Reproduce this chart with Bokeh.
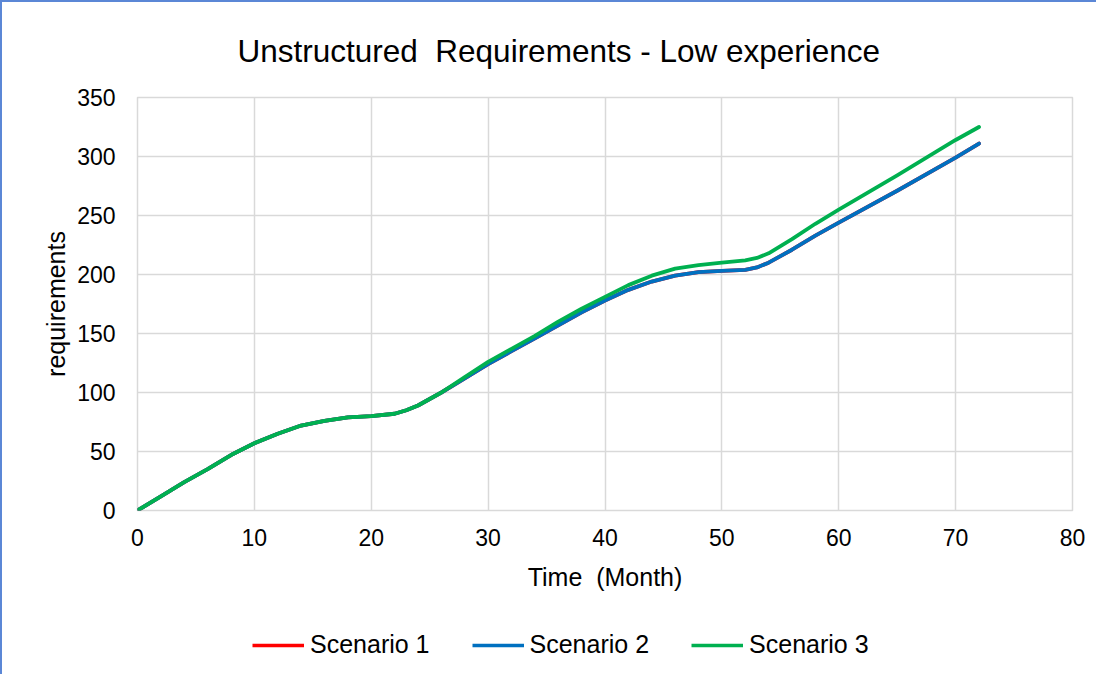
from bokeh.plotting import figure
from bokeh.layouts import column
from bokeh.models import FixedTicker, Range1d, Legend, LegendItem, InlineStyleSheet
from bokeh.embed import file_html
from bokeh.resources import INLINE

# ---- data ----
months = [0, 2, 4, 6, 8, 10, 12, 14, 16, 18, 20, 22, 23, 24, 26, 28, 30, 32, 34, 36, 38,
          40, 42, 44, 46, 48, 50, 52, 53, 54, 56, 58, 60, 65, 70, 72]
scenario_1 = [0, 12, 24, 35, 47, 57, 65, 72, 76, 79, 80, 82, 85, 89, 100, 112, 124, 135, 146, 157, 168,
              178, 187, 194, 199, 202, 203, 204, 206, 210, 221, 233, 244, 271, 299, 311]
scenario_2 = [0, 12, 24, 35, 47, 57, 65, 72, 76, 79, 80, 82, 85, 89, 100, 112, 124, 135, 146, 157, 168,
              178, 187, 194, 199, 202, 203, 204, 206, 210, 221, 233, 244, 271, 299, 311]
scenario_3 = [0, 12, 24, 35, 47, 57, 65, 72, 76, 79, 80, 82, 85, 89, 100, 113, 126, 137, 148, 160, 171,
              181, 191, 199, 205, 208, 210, 212, 214, 218, 230, 243, 255, 284, 314, 325]
series_names = ["Scenario 1", "Scenario 2", "Scenario 3"]
series_colors = ["#FF0000", "#0070C0", "#00B050"]
x_ticks = [0, 10, 20, 30, 40, 50, 60, 70, 80]
y_ticks = [0, 50, 100, 150, 200, 250, 300, 350]

FONT = "Liberation Sans"
GRID = "#D9D9D9"
series = [scenario_1, scenario_2, scenario_3]

p = figure(width=1094, height=610, output_backend="svg", toolbar_location=None,
           x_range=Range1d(0, 80), y_range=Range1d(0, 350),
           min_border_left=135, min_border_right=24, min_border_top=95, min_border_bottom=102,
           title="Unstructured\u00a0 Requirements - Low experience")

p.title.align = "left"
p.title.offset = 100
p.title.text_font = FONT
p.title.text_font_size = "31.5px"
p.title.text_font_style = "normal"
p.title.text_color = "#000000"
p.title.standoff = 57

p.outline_line_color = GRID
p.outline_line_width = 1.5

for ax in (p.xaxis[0], p.yaxis[0]):
    ax.axis_line_color = None
    ax.major_tick_line_color = None
    ax.minor_tick_line_color = None
    ax.major_tick_out = 0
    ax.major_tick_in = 0
    ax.major_label_text_font = FONT
    ax.major_label_text_font_size = "23px"
    ax.major_label_text_color = "#000000"
    ax.axis_label_text_font = FONT
    ax.axis_label_text_font_size = "25px"
    ax.axis_label_text_font_style = "normal"
    ax.axis_label_text_color = "#000000"

p.xaxis[0].ticker = FixedTicker(ticks=x_ticks)
p.yaxis[0].ticker = FixedTicker(ticks=y_ticks)
p.xaxis[0].axis_label = "Time\u00a0 (Month)"
p.yaxis[0].axis_label = "requirements"
p.xaxis[0].major_label_standoff = 18
p.xaxis[0].axis_label_standoff = 14
p.yaxis[0].major_label_standoff = 22
p.yaxis[0].axis_label_standoff = 4

p.xgrid.ticker = FixedTicker(ticks=x_ticks)
p.ygrid.ticker = FixedTicker(ticks=y_ticks)
p.xgrid.grid_line_color = GRID
p.ygrid.grid_line_color = GRID
p.xgrid.grid_line_width = 1.5
p.ygrid.grid_line_width = 1.5

for ys, col in zip(series, series_colors):
    p.line(months, ys, line_color=col, line_width=3.8, line_cap="round", line_join="round")

# legend strip below the chart (its key lines lie outside its ranges, so only the legend shows)
lf = figure(width=1094, height=62, output_backend="svg", toolbar_location=None,
            x_range=Range1d(-2, -1), y_range=Range1d(-2, -1),
            x_axis_type=None, y_axis_type=None, min_border=0)
lf.outline_line_color = None
lf.xgrid.visible = False
lf.ygrid.visible = False
key_renderers = [lf.line(months, ys, line_color=c, line_width=3.5) for ys, c in zip(series, series_colors)]
legend = Legend(items=[LegendItem(label=n, renderers=[r]) for n, r in zip(series_names, key_renderers)],
                orientation="horizontal", location=(115, 15),
                label_text_font=FONT, label_text_font_size="25px", label_text_color="#000000",
                glyph_width=52, glyph_height=20, label_standoff=6, spacing=42,
                padding=0, margin=0, border_line_color=None, background_fill_alpha=0)
lf.add_layout(legend, "center")

border_css = InlineStyleSheet(css=":host { border-left: 2px solid #5B87D6; border-top: 2px solid #5B87D6; }")
layout = column(p, lf, spacing=0, stylesheets=[border_css])

open("out.html", "w").write(file_html(layout, INLINE))
